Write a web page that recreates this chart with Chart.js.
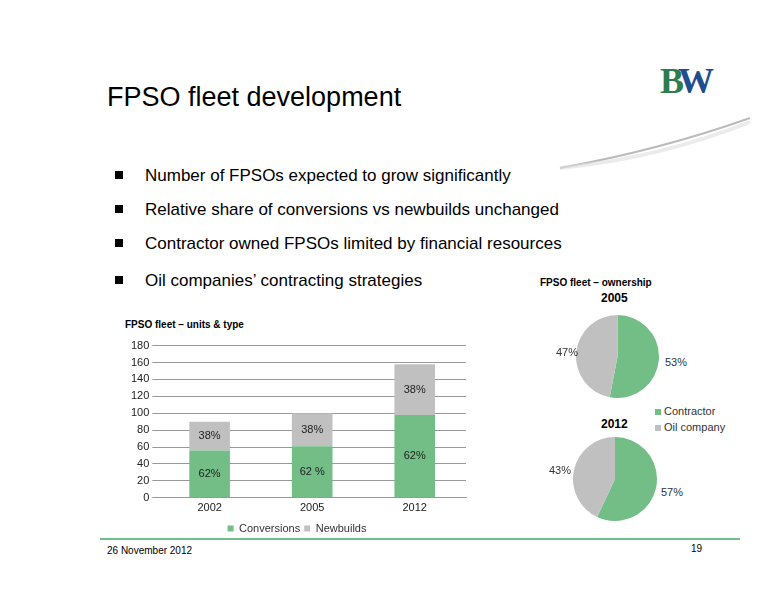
<!DOCTYPE html>
<html><head><meta charset="utf-8">
<script src="https://cdn.jsdelivr.net/npm/chart.js@4"></script>
<style>
body{margin:0;width:776px;height:600px;position:relative;background:#fff;font-family:"Liberation Sans",Arial,sans-serif;overflow:hidden}
.a{position:absolute}
.b{position:absolute;left:115px;font-size:17px;color:#000}
.b span{display:inline-block;width:8px;height:8px;background:#000;margin-right:22px;vertical-align:2px}
</style></head><body>
<svg class="a" style="left:0;top:0" width="776" height="200">
<path d="M560 168 Q660 150 750 118" stroke="#bbb" stroke-width="2" fill="none"/>
<path d="M560 168 Q660 158 750 122" stroke="#ddd" stroke-width="4" fill="none" opacity=".6"/>
</svg>
<div class="a" style="left:660px;top:60px;font-family:'Liberation Serif',serif;font-size:36px;color:#2e7d4f;font-weight:bold;letter-spacing:-6px">B<span style="color:#1f4e8c">W</span></div>
<div class="a" style="left:107px;top:82px;font-size:27px">FPSO fleet development</div>
<div class="b" style="top:166px"><span></span>Number of FPSOs expected to grow significantly</div>
<div class="b" style="top:200px"><span></span>Relative share of conversions vs newbuilds unchanged</div>
<div class="b" style="top:234px"><span></span>Contractor owned FPSOs limited by financial resources</div>
<div class="b" style="top:271px"><span></span>Oil companies’ contracting strategies</div>
<div class="a" style="left:125px;top:319px;font-size:10px;font-weight:bold">FPSO fleet – units &amp; type</div>
<div class="a" style="left:540px;top:277px;font-size:10px;font-weight:bold">FPSO fleet – ownership</div>
<div class="a" style="left:601px;top:291px;font-size:12px;font-weight:bold">2005</div>
<div class="a" style="left:601px;top:417px;font-size:12px;font-weight:bold">2012</div>
<div class="a" style="left:655px;top:403px;font-size:11px;line-height:16px;color:#333"><div><span style="display:inline-block;width:6px;height:6px;background:#72be86;margin-right:3px"></span>Contractor</div><div><span style="display:inline-block;width:6px;height:6px;background:#c0c0c0;margin-right:3px"></span>Oil company</div></div>
<div class="a" style="left:100px;top:538px;width:640px;height:2px;background:#6fbf8a"></div>
<div class="a" style="left:107px;top:545px;font-size:10px">26 November 2012</div>
<div class="a" style="left:691px;top:543px;font-size:10px">19</div>
<div class="a" style="left:100px;top:336px;width:380px;height:208px"><canvas id="bar"></canvas></div>
<div class="a" style="left:576px;top:315px;width:83px;height:83px"><canvas id="p1"></canvas></div>
<div class="a" style="left:573px;top:437px;width:84px;height:84px"><canvas id="p2"></canvas></div>
<script>
const years=['2002','2005','2012'];
const conversions=[56,61,98];
const newbuilds=[34,39,60];
const convLabels=['62%','62 %','62%'];
const newLabels=['38%','38%','38%'];
const owners=['Contractor','Oil company'];
const own2005=[53,47];
const own2012=[57,43];
const green='#72be86',grey='#c0c0c0';
Chart.defaults.font.family='"Liberation Sans",Arial,sans-serif';
Chart.defaults.color='#333';
const barLab={id:'bl',afterDatasetsDraw(c){const x=c.ctx;x.save();x.font='11px "Liberation Sans"';x.fillStyle='#222';x.textAlign='center';x.textBaseline='middle';
 c.data.datasets.forEach((d,i)=>{c.getDatasetMeta(i).data.forEach((e,j)=>{x.fillText(d.labels[j],e.x,(e.y+e.base)/2);});});x.restore();}};
new Chart(document.getElementById('bar'),{type:'bar',data:{labels:years,datasets:[
 {label:'Conversions',data:conversions,backgroundColor:green,labels:convLabels},
 {label:'Newbuilds',data:newbuilds,backgroundColor:grey,labels:newLabels}]},
 options:{responsive:true,maintainAspectRatio:false,animation:false,layout:{padding:{right:14,left:28}},
 datasets:{bar:{categoryPercentage:0.88,barPercentage:0.45}},
 scales:{x:{stacked:true,grid:{display:false,tickLength:0},border:{color:'#999'},ticks:{font:{size:11},color:'#222',padding:4}},
 y:{stacked:true,min:0,max:180,ticks:{stepSize:20,font:{size:11},color:'#222'},grid:{color:'#999',tickLength:6},border:{display:false}}},
 plugins:{legend:{position:'bottom',labels:{boxWidth:6,boxHeight:6,font:{size:11},padding:4}},tooltip:{enabled:false}}},plugins:[barLab]});
function pie(id,vals){new Chart(document.getElementById(id),{type:'pie',data:{labels:owners,datasets:[{data:vals,backgroundColor:[green,grey],borderWidth:0}]},
 options:{responsive:true,maintainAspectRatio:false,animation:false,plugins:{legend:{display:false},tooltip:{enabled:false}}}});}
pie('p1',own2005);pie('p2',own2012);
</script>
<div class="a" style="left:665px;top:356px;font-size:11px;color:#333">53%</div>
<div class="a" style="left:556px;top:346px;font-size:11px;color:#333">47%</div>
<div class="a" style="left:661px;top:486px;font-size:11px;color:#333">57%</div>
<div class="a" style="left:549px;top:464px;font-size:11px;color:#333">43%</div>
</body></html>
